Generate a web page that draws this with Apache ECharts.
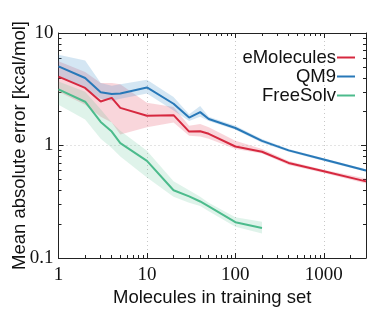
<!DOCTYPE html>
<html><head><meta charset="utf-8">
<script src="https://cdn.jsdelivr.net/npm/echarts@6/dist/echarts.min.js"></script>
<style>html,body{margin:0;padding:0;background:#fff}#c{width:374px;height:323px}</style>
</head><body><div id="c"></div>
<script>
// ---- data ----
const trainSizes = [1, 2, 3, 4, 5, 10, 20, 30, 40, 50, 100, 200, 400, 1000, 3000];
const freeSolvSizes = [1, 2, 3, 4, 5, 10, 20, 30, 40, 50, 100, 200];

const eMolMean  = [4.1, 3.25, 2.46, 2.65, 2.16, 1.84, 1.86, 1.33, 1.34, 1.27, 0.98, 0.88, 0.70, 0.59, 0.48];
const eMolLow   = [3.0, 2.3, 1.8, 1.6, 1.25, 1.45, 1.6, 1.22, 1.2, 1.15, 0.93, 0.85, 0.67, 0.57, 0.46];
const eMolHigh  = [5.6, 4.5, 3.6, 3.6, 3.5, 2.4, 2.2, 1.5, 1.55, 1.45, 1.1, 0.93, 0.73, 0.61, 0.51];

const qm9Mean   = [5.05, 3.98, 2.98, 2.87, 2.9, 3.28, 2.35, 1.77, 1.98, 1.72, 1.43, 1.10, 0.905, 0.75, 0.60];
const qm9Low    = [4.2, 3.2, 2.6, 2.5, 2.6, 2.9, 2.05, 1.65, 1.8, 1.65, 1.38, 1.06, 0.88, 0.73, 0.585];
const qm9High   = [6.4, 5.7, 3.6, 3.4, 3.5, 3.85, 2.7, 1.9, 2.25, 1.8, 1.5, 1.14, 0.93, 0.77, 0.615];

const fsMean    = [3.15, 2.45, 1.62, 1.33, 1.05, 0.73, 0.40, 0.353, 0.318, 0.288, 0.208, 0.185];
const fsLow     = [2.3, 1.7, 1.15, 0.95, 0.8, 0.52, 0.35, 0.31, 0.29, 0.26, 0.19, 0.165];
const fsHigh    = [3.7, 3.0, 2.1, 1.6, 1.35, 0.9, 0.48, 0.40, 0.35, 0.31, 0.23, 0.21];

const seriesNames = ['eMolecules', 'QM9', 'FreeSolv'];
const xMajorTicks = [1, 10, 100, 1000];
const xMinorTicks = [2,3,4,5,6,7,8,9,20,30,40,50,60,70,80,90,200,300,400,500,600,700,800,900,2000,3000];
const yMajorTicks = [0.1, 1, 10];
const yMinorTicks = [0.2,0.3,0.4,0.5,0.6,0.7,0.8,0.9,2,3,4,5,6,7,8,9];

// ---- styles ----
const colors = ['#d6283f', '#2878b8', '#4cbb8c'];
const bandColors = ['rgba(230,90,110,0.25)', 'rgba(60,140,200,0.22)', 'rgba(80,190,140,0.18)'];
const sans = '"Liberation Sans", Arial, sans-serif';
const serif = '"Liberation Serif", "DejaVu Serif", serif';
const frame = '#222';

function zip(xs, ys) { return xs.map((x, i) => [x, ys[i]]); }

function band(xs, lo, hi, idx) {
  return {
    type: 'custom', silent: true, z: 1,
    data: xs.map((x, i) => [x, lo[i], hi[i]]),
    encode: { x: 0, y: [1, 2] },
    renderItem: function (params, api) {
      if (params.dataIndex !== 0) return null;
      const pts = [];
      for (let i = 0; i < xs.length; i++) pts.push(api.coord([xs[i], hi[i]]));
      for (let i = xs.length - 1; i >= 0; i--) pts.push(api.coord([xs[i], lo[i]]));
      return { type: 'polygon', shape: { points: pts }, style: { fill: bandColors[idx] } };
    }
  };
}

function line(name, xs, ys, idx) {
  return {
    type: 'line', name: name, data: zip(xs, ys), showSymbol: false, z: 3,
    lineStyle: { color: colors[idx], width: 2 }, itemStyle: { color: colors[idx] },
    animation: false
  };
}

function xAx(pos, ticks, len, labels, split) {
  return {
    type: 'log', logBase: 10, min: 1, max: 3000, position: pos, gridIndex: 0,
    axisLine: { show: !!labels || pos === 'top' && len === 5, lineStyle: { color: frame, width: 1 } },
    axisTick: { show: true, inside: true, length: len, customValues: ticks, lineStyle: { color: frame, width: 1 } },
    axisLabel: labels ? { show: true, customValues: ticks, fontFamily: serif, fontSize: 19, color: '#111', margin: 8,
                          formatter: v => String(v) } : { show: false },
    splitLine: { show: !!split, lineStyle: { color: '#c8c8c8', type: [1, 3], width: 1 } },
    minorTick: { show: false }, minorSplitLine: { show: false }
  };
}
function yAx(pos, ticks, len, labels, split) {
  return {
    type: 'log', logBase: 10, min: 0.1, max: 10, position: pos, gridIndex: 0,
    axisLine: { show: !!labels || pos === 'right' && len === 5, lineStyle: { color: frame, width: 1 } },
    axisTick: { show: true, inside: true, length: len, customValues: ticks, lineStyle: { color: frame, width: 1 } },
    axisLabel: labels ? { show: true, customValues: ticks, fontFamily: serif, fontSize: 19, color: '#111', margin: 5,
                          formatter: v => String(v) } : { show: false },
    splitLine: { show: !!split, lineStyle: { color: '#c8c8c8', type: [1, 3], width: 1 } },
    minorTick: { show: false }, minorSplitLine: { show: false }
  };
}

const xAxes = [
  Object.assign(xAx('bottom', xMajorTicks, 5, true, true), {
    name: 'Molecules in training set', nameLocation: 'middle', nameGap: 30, nameMoveOverlap: false,
    nameTextStyle: { fontFamily: sans, fontSize: 18.5, color: '#111' }
  }),
  xAx('bottom', xMinorTicks, 3, false, false),
  xAx('top', xMajorTicks, 5, false, false),
  xAx('top', xMinorTicks, 3, false, false)
];
const yAxes = [
  Object.assign(yAx('left', yMajorTicks, 5, true, true), {
    name: 'Mean absolute error [kcal/mol]', nameLocation: 'middle', nameGap: 29, nameRotate: 90, nameMoveOverlap: false,
    nameTextStyle: { fontFamily: sans, fontSize: 18.5, color: '#111' }
  }),
  yAx('left', yMinorTicks, 3, false, false),
  yAx('right', yMajorTicks, 5, false, false),
  yAx('right', yMinorTicks, 3, false, false)
];

const chart = echarts.init(document.getElementById('c'), null, { renderer: 'canvas' });
chart.setOption({
  animation: false,
  backgroundColor: '#fff',
  grid: { left: 58.5, right: 8, top: 33, bottom: 65, containLabel: false, outerBoundsMode: 'none' },
  xAxis: xAxes,
  yAxis: yAxes,
  legend: {
    data: seriesNames, orient: 'vertical', right: 14, top: 43, align: 'right',
    icon: 'rect', itemWidth: 18, itemHeight: 2, itemGap: 0,
    textStyle: { fontFamily: sans, fontSize: 18.5, color: '#111', lineHeight: 19, padding: [0, -4, 0, 0] }
  },
  series: [
    band(trainSizes, eMolLow, eMolHigh, 0),
    band(trainSizes, qm9Low, qm9High, 1),
    band(freeSolvSizes, fsLow, fsHigh, 2),
    line(seriesNames[0], trainSizes, eMolMean, 0),
    line(seriesNames[1], trainSizes, qm9Mean, 1),
    line(seriesNames[2], freeSolvSizes, fsMean, 2)
  ]
});
</script></body></html>
